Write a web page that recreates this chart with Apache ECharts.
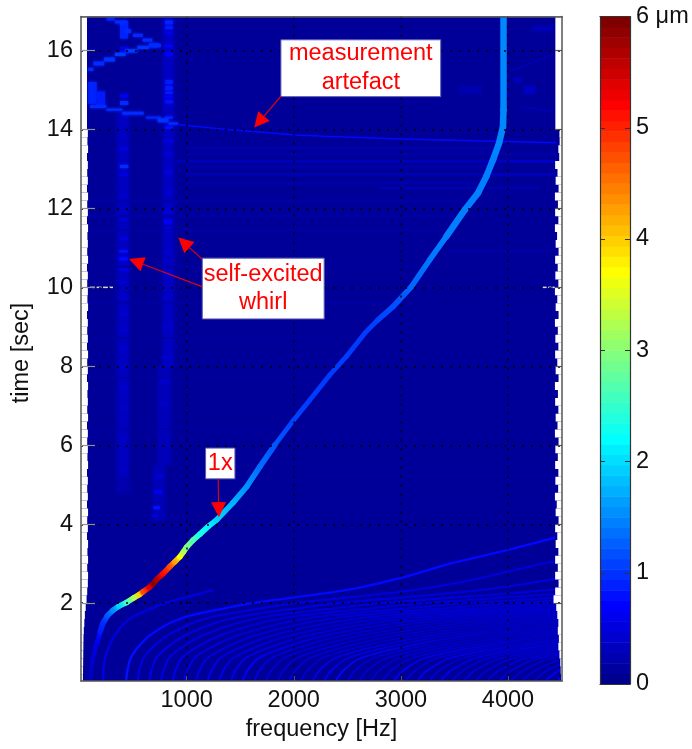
<!DOCTYPE html>
<html><head><meta charset="utf-8">
<style>html,body{margin:0;padding:0;background:#fff}#c{width:692px;height:749px}</style>
<script src="https://cdn.jsdelivr.net/npm/echarts@6/dist/echarts.min.js"></script>
</head><body><div id="c"></div>
<script>
const xTicks = [1000,2000,3000,4000];
const yTicks = [2,4,6,8,10,12,14,16];
const cbTicks = [0,1,2,3,4,5,6];
const xRange = [14,4504];
const yRange = [0.03,16.86];

// 1x ridge
const ridgeFreq = [95,105,125,150,173,195,220,260,313,370,440,510,560,593,650,690,720,780,844,890,938,970,1000,1060,1124,1200,1280,1432,1560,1684,1824,1988,2150,2336,2492,2663,2787,2927,3099,3270,3425,3596,3720,3798,3860,3916,3953,3958,3958];
const ridgeTime = [0.06,0.3,0.6,0.9,1.07,1.3,1.5,1.68,1.82,1.93,2.02,2.14,2.22,2.29,2.4,2.5,2.6,2.75,2.93,3.05,3.18,3.3,3.42,3.6,3.75,3.94,4.11,4.54,4.95,5.46,6.01,6.6,7.15,7.78,8.25,8.84,9.18,9.51,10.02,10.7,11.29,11.96,12.39,12.81,13.23,13.65,14.07,14.5,16.86];
const ridgeAmp = [0.35,0.4,0.5,0.6,0.75,0.9,1.0,1.25,1.55,2.0,2.6,3.3,4.0,4.8,5.4,5.9,5.7,5.2,4.8,4.3,3.7,3.3,3.0,2.7,2.4,2.2,2.0,1.8,1.6,1.4,1.25,1.15,1.1,1.1,1.1,1.1,1.15,1.2,1.35,1.45,1.5,1.5,1.5,1.5,1.5,1.55,1.55,1.55,1.55];

// engine-order fan at start of run (frequency at each time of fanTimes)
const fanTimes = [0.06,0.3,0.6,0.9,1.2,1.5,1.7,1.85,2.0,2.33,2.64,3.0,3.35,3.66];
const fanFreq = [
[220,224,238,276,332,422,526,660,800,1246],
[436,448,476,552,664,844,1052,1320,1600,2492,3000,3456,4000,4440],
[545,560,595,690,830,1055,1315,1650,2000,3115,3750,4320,5000],
[654,672,714,828,996,1266,1578,1980,2400,3738,4500],
[763,784,833,966,1162,1477,1841,2310,2800,4361,5250],
[872,896,952,1104,1328,1688,2104,2640,3200,4984],
[981,1008,1071,1242,1494,1899,2367,2970,3600,5607],
[1090,1120,1190,1380,1660,2110,2630,3300,4000,6230],
[1199,1232,1309,1518,1826,2321,2893,3630,4400,6853],
[1308,1344,1428,1656,1992,2532,3156,3960,4800],
[1417,1456,1547,1794,2158,2743,3419,4290,5200],
[1526,1568,1666,1932,2324,2954,3682,4620],
[1635,1680,1785,2070,2490,3165,3945,4950],
[1744,1792,1904,2208,2656,3376,4208,5280],
[1853,1904,2023,2346,2822,3587,4471,5610],
[1962,2016,2142,2484,2988,3798,4734],
[2071,2128,2261,2622,3154,4009,4997],
[2180,2240,2380,2760,3320,4220,5260],
[2289,2352,2499,2898,3486,4431,5523],
[2398,2464,2618,3036,3652,4642],
[2507,2576,2737,3174,3818,4853],
[2616,2688,2856,3312,3984,5064],
[2725,2800,2975,3450,4150,5275],
[2834,2912,3094,3588,4316,5486],
[2943,3024,3213,3726,4482,5697],
[3052,3136,3332,3864,4648],
[3161,3248,3451,4002,4814],
[3270,3360,3570,4140,4980],
[3379,3472,3689,4278,5146],
[3488,3584,3808,4416,5312],
[3597,3696,3927,4554,5478],
[3706,3808,4046,4692],
[3815,3920,4165,4830],
[3924,4032,4284,4968],
[4033,4144,4403,5106],
[4142,4256,4522,5244],
[4251,4368,4641,5382],
[4360,4480,4760,5520],
[4469,4592,4879]
];
const fanAmp = [0.6,0.85,0.6,0.65,0.6,0.65,0.6,0.6,0.65,0.6,0.65,0.75,0.6,0.5,0.55,0.55,0.5,0.7,0.7,0.8,0.5,0.5,0.5,0.5,0.75,0.5,0.75,0.5,0.65,0.5,0.55,0.5,0.55,0.5,0.45,0.45,0.5,0.7,0.7];
// amplitude of each order once it has swept high in frequency
const fanTailAmp = [0.55,0.8,0.55,0.55,0.52,0.5,0.5,0.48,0.48,0.46,0.46,0.44,0.44,0.42,0.42,0.42,0.4,0.4,0.4,0.4,0.38,0.38,0.38,0.38,0.38,0.36,0.36,0.36,0.36,0.36,0.36,0.36,0.36,0.36,0.36,0.36,0.36,0.36,0.36];

// artefact line and other thin curves
const artefactFreq = [920,1031,1373,1622,2026,2337,3000,4450];
const artefactTime = [14.12,14.09,14.0,13.95,13.86,13.82,13.76,13.66];
const mirrorFreq = [4016,4417];
const mirrorTime = [15.47,15.89];
const mirror2Freq = [4109,4417];
const mirror2Time = [14.58,14.45];

// [f0,f1,t0,t1,amp]
const whirlBlocks = [
[340,470,4.8,14.45,0.26],[770,890,8,16.85,0.26],[725,865,5.5,8,0.24],[680,810,4.1,5.5,0.24],
[365,450,5.2,14.45,0.38],[790,870,8,16.85,0.4],[745,845,5.5,8,0.34],[695,790,4.1,5.5,0.32],
[82,160,14.65,15.2,0.95],[160,238,14.62,14.96,0.9],[378,455,16.3,16.75,0.95],[378,455,15.9,16.1,0.6],
[378,455,14.62,14.72,1.0],[378,455,14.8,14.9,0.65],[378,455,13.02,13.1,1.0],[370,450,13.48,13.54,0.6],
[370,450,12.82,12.88,0.6],[370,450,12.28,12.34,0.5],[370,450,11.7,11.76,0.5],[370,450,11.2,11.26,0.55],
[370,450,10.88,10.94,0.85],[370,450,10.68,10.76,0.8],[370,450,10.42,10.48,0.6],[370,450,10.08,10.14,0.5],
[375,445,9.68,9.74,0.48],[375,445,9.28,9.36,0.48],[375,445,8.88,8.94,0.48],[375,445,8.4,8.5,0.46],
[375,445,7.98,8.04,0.46],[375,445,7.4,7.5,0.44],[375,445,6.9,7.0,0.42],[380,440,6.3,6.4,0.4],[380,440,5.5,5.6,0.4],
[800,870,16.66,16.76,0.95],[800,870,16.54,16.62,0.9],[800,870,16.42,16.48,0.65],[800,870,16.08,16.14,0.75],
[800,870,15.86,15.94,0.75],[800,870,15.15,15.25,0.9],[800,870,15.0,15.1,0.9],[800,870,14.9,14.96,0.9],
[800,870,14.8,14.86,0.75],[800,870,14.66,14.74,0.85],[800,870,14.27,14.33,0.95],[800,870,14.02,14.08,0.85],
[800,870,13.68,13.74,0.6],[800,870,13.36,13.42,0.55],[800,870,12.88,12.94,0.6],[800,870,12.38,12.44,0.5],
[790,860,11.88,11.94,0.6],[790,860,11.62,11.7,0.75],[790,860,11.42,11.5,0.6],[790,860,10.88,10.94,0.48],
[790,860,10.28,10.36,0.46],[780,850,9.68,9.76,0.46],[780,850,8.98,9.06,0.46],[770,850,8.18,8.26,0.5],
[760,840,7.58,7.66,0.46],[750,830,7.0,7.08,0.44],[740,820,6.38,6.46,0.42],[710,790,5.18,5.26,0.5],
[700,770,4.78,4.86,0.7],[690,750,4.38,4.46,0.85],[680,730,4.18,4.24,0.6],
[4060,4125,15.2,15.3,0.4],[4150,4250,14.9,15.1,0.4],[4230,4417,16.5,16.6,0.35],[3550,3750,14.9,15.1,0.28],
[82,130,15.48,15.56,1.0],[130,230,15.62,15.72,1.0],[230,330,15.72,15.82,1.05],[330,430,15.86,15.94,1.1],[430,540,15.95,16.03,1.1],[540,650,16.04,16.12,1.05],[650,760,16.08,16.17,1.0],
[253,330,16.76,16.84,0.95],[330,440,16.68,16.76,1.0],[420,480,16.44,16.54,1.0],[500,590,16.34,16.42,1.0],[590,680,16.22,16.3,1.0],[650,740,16.08,16.18,1.0],
[98,250,14.54,14.62,1.0],[250,400,14.47,14.53,1.0],[400,600,14.37,14.45,1.0],[620,760,14.27,14.33,0.95],[730,830,14.18,14.28,1.05],[830,920,14.12,14.18,1.0]
];
// [f0,f1,t0,t1,amp]
const stripeLines = [
[1000,3950,13.51,13.55,0.3],[1000,4450,13.36,13.39,0.3],[900,3950,13.17,13.21,0.38],[3950,4450,13.17,13.21,0.5],
[1000,3830,13.04,13.08,0.3],[1000,3800,12.84,12.88,0.36],[3800,4450,12.84,12.88,0.42],[1000,3700,12.62,12.66,0.28],
[2800,3700,12.5,12.54,0.35],[3800,4300,12.5,12.54,0.3],[90,3640,12.17,12.21,0.24],[90,3500,11.79,11.83,0.24],
[90,3400,11.44,11.47,0.22],[3450,4400,10.9,10.93,0.28],[90,3300,10.5,10.53,0.2],[90,3000,9.6,9.63,0.2],
[90,2500,8.7,8.73,0.19],[90,2300,7.7,7.73,0.19],[90,1900,6.4,6.43,0.19],[2100,4450,5.2,5.23,0.19],[2000,4450,4.5,4.53,0.19]
];

// edge of the no-data margins, one value per row of edgeStep seconds
const edgeStep = 0.2;
const leftEdge = [32,33,34,35,36,37,40,45,50,58,66,72,78,80,72,80,74,80,70,78,72,80,70,78,72,78,70,80,74,78,72,78,70,80,72,78,74,80,70,78,72,80,70,78,72,78,70,80,74,78,72,78,70,80,72,78,74,80,70,78,72,80,70,78,72,78,70,80,74,78];
const rightEdge = [4495,4492,4488,4480,4470,4475,4465,4470,4460,4450,4425,4440,4472,4440,4465,4440,4470,4445,4460,4440,4472,4445,4455,4438,4468,4442,4470,4440,4465,4442,4472,4438,4462,4445,4470,4440,4466,4438,4472,4445,4460,4440,4470,4442,4465,4438,4472,4445,4460,4438,4470,4442,4464,4440,4472,4445,4458,4438,4470,4440,4466,4438,4472,4445,4462,4440,4478,4470,4482,4480];
const topMargin = [[14,70],[14,4442]];

// small dashes
const tenDashes = [[98,145],[160,205],[220,265],[275,313],[4325,4360],[4375,4405],[4415,4436]];

// labels
const noteBoxes = [
 {text:'measurement\nartefact', f0:1880,f1:3372,t0:14.83,t1:16.27},
 {text:'self-excited\nwhirl', f0:1146,f1:2284,t0:9.2,t1:10.74},
 {text:'1x', f0:1177,f1:1451,t0:5.15,t1:5.93}
];
// [from f, from t, tip f, tip t]
const noteArrows = [[1880,14.84,1631,14.05],[1143,10.02,462,10.72],[1143,10.72,922,11.26],[1295,5.15,1301,4.18]];
const colorLevels = 64;

function jetFrac(x){
  const c = a => Math.round(255*Math.max(0,Math.min(1,1.5-Math.abs(4*x-a))));
  return 'rgb('+c(3)+','+c(2)+','+c(1)+')';
}
const jet = v => jetFrac(v/6);
const FONT = 'Liberation Sans';
const BLUE_BG = '#000099';

const ridgeSegs = ridgeFreq.slice(0,-1).map((f,i)=>[f,ridgeTime[i],ridgeFreq[i+1],ridgeTime[i+1],ridgeAmp[i],ridgeAmp[i+1]]);
function ridgeWidth(t){ if(t>11) return 6.5; if(t>9) return 5.5; if(t>5.5) return 4.8; if(t>1.2) return 5.6; return 4.5; }
function polySeries(name,fs,ts,amp,w,z){
  return {type:'custom',name,coordinateSystem:'cartesian2d',clip:true,z:z||2,silent:true,
    data:[[fs[0],ts[0]]],
    renderItem:(p,api)=>({type:'polyline',
      shape:{points:fs.map((f,i)=>api.coord([f,ts[i]]))},
      style:{stroke:jet(amp),lineWidth:w,fill:null,lineJoin:'round'}})};
}
function rectSeries(name,rows,z,color,blur){
  return {type:'custom',name,coordinateSystem:'cartesian2d',clip:true,z:z,silent:true,
    data:rows,
    renderItem:(p,api)=>{
      const a=api.coord([api.value(0),api.value(3)]), b=api.coord([api.value(1),api.value(2)]);
      const fill=color||jet(api.value(4));
      return {type:'rect',shape:{x:a[0],y:a[1],width:b[0]-a[0],height:Math.max(b[1]-a[1],1)},
        style:blur?{fill,shadowBlur:blur,shadowColor:fill}:{fill}};
    }};
}
const maskRows=[];
leftEdge.forEach((f,i)=>maskRows.push([xRange[0],f,i*edgeStep,(i+1)*edgeStep,0]));
rightEdge.forEach((f,i)=>maskRows.push([f,xRange[1],i*edgeStep,(i+1)*edgeStep,0]));
topMargin.forEach(r=>{ maskRows.push(r[1]<1000?[xRange[0],r[1],r[0],yRange[1],0]:[r[1],xRange[1],r[0],yRange[1],0]); });

const frameAxis = {axisLine:{show:true,lineStyle:{color:'#555',width:1.5}},axisLabel:{show:false},axisTick:{show:false},splitLine:{show:false},z:6};
const cbLevels = Array.from({length:colorLevels},(_,i)=>[i]);

const series = [
  rectSeries('whirl',whirlBlocks,2,null,3),
  rectSeries('stripes',stripeLines,2,null,1),
  {type:'custom',name:'fan',coordinateSystem:'cartesian2d',clip:true,z:2,silent:true,
   data:fanFreq.map((r,i)=>[r[0],fanTimes[0],i]),
   renderItem:(p,api)=>{const i=p.dataIndex,r=fanFreq[i];
     const y0=api.coord([xRange[0],0.3])[1], y1=api.coord([xRange[0],1.3])[1];
     return {type:'polyline',shape:{points:r.map((f,k)=>api.coord([f,fanTimes[k]])),smooth:0.25},
       style:{lineWidth:i<2?2.4:(i<12?2.1:1.8),fill:null,
         stroke:new echarts.graphic.LinearGradient(0,y0,0,y1,[{offset:0,color:jet(fanAmp[i])},{offset:1,color:jet(fanTailAmp[i])}],true)}};}},
  polySeries('artefact',artefactFreq,artefactTime,0.8,1.5,2),
  polySeries('mirror',mirrorFreq,mirrorTime,0.35,1.5,2),
  polySeries('mirror2',mirror2Freq,mirror2Time,0.35,1.5,2),
  {type:'custom',name:'1x',coordinateSystem:'cartesian2d',clip:true,z:3,silent:true,
   data:ridgeSegs,
   renderItem:(p,api)=>{
     const s=ridgeSegs[p.dataIndex], a=api.coord([s[0],s[1]]), b=api.coord([s[2],s[3]]);
     return {type:'line',shape:{x1:a[0],y1:a[1],x2:b[0],y2:b[1]},
       style:{lineWidth:ridgeWidth(s[1]),lineCap:'round',
         stroke:new echarts.graphic.LinearGradient(a[0],a[1],b[0],b[1]+0.01,[{offset:0,color:jet(s[4])},{offset:1,color:jet(s[5])}],true)}};
   }},
  rectSeries('margin',maskRows,4,'#ffffff'),
  {type:'custom',name:'dashes',coordinateSystem:'cartesian2d',z:5,silent:true,
   data:tenDashes,
   renderItem:(p,api)=>{const a=api.coord([api.value(0),10]),b=api.coord([api.value(1),10]);
     return {type:'line',shape:{x1:a[0],y1:a[1],x2:b[0],y2:b[1]},style:{stroke:'#d8d8e8',lineWidth:1.5}};}},
  {type:'custom',name:'boxes',coordinateSystem:'cartesian2d',z:8,silent:true,
   data:noteBoxes.map(n=>[n.f0,n.t0]),
   renderItem:(p,api)=>{const n=noteBoxes[p.dataIndex];
     const a=api.coord([n.f0,n.t1]),b=api.coord([n.f1,n.t0]);
     return {type:'group',children:[
       {type:'rect',shape:{x:a[0],y:a[1],width:b[0]-a[0],height:b[1]-a[1]},style:{fill:'#fff',stroke:'#5a5ab4',lineWidth:1}},
       {type:'text',z2:2,style:{text:n.text,x:(a[0]+b[0])/2,y:(a[1]+b[1])/2,align:'center',verticalAlign:'middle',
         fill:'#ff0000',font:'23.5px "'+FONT+'"',lineHeight:28.5}}
     ]};}},
  {type:'custom',name:'arrows',coordinateSystem:'cartesian2d',z:8,silent:true,
   data:noteArrows,
   renderItem:(p,api)=>{
     const a=api.coord([api.value(0),api.value(1)]),b=api.coord([api.value(2),api.value(3)]);
     const dx=b[0]-a[0],dy=b[1]-a[1],L=Math.hypot(dx,dy),ux=dx/L,uy=dy/L;
     const bx=b[0]-ux*15,by=b[1]-uy*15;
     return {type:'group',children:[
       {type:'line',shape:{x1:a[0],y1:a[1],x2:bx,y2:by},style:{stroke:'#e00010',lineWidth:1.2}},
       {type:'polygon',shape:{points:[b,[bx-uy*7.5,by+ux*7.5],[bx+uy*7.5,by-ux*7.5]]},style:{fill:'#ff0000'}}
     ]};}},
  {type:'custom',name:'colorbar',coordinateSystem:'cartesian2d',xAxisIndex:2,yAxisIndex:2,z:2,silent:true,
   data:cbLevels,
   renderItem:(p,api)=>{const i=p.dataIndex;
     const a=api.coord([0,6*(i+1)/colorLevels]),b=api.coord([1,6*i/colorLevels]);
     return {type:'rect',shape:{x:a[0],y:a[1],width:b[0]-a[0],height:b[1]-a[1]+0.5},style:{fill:jetFrac((i+1)/colorLevels)}};}}
];

const tickLabel = {fontFamily:FONT,fontSize:23.5,color:'#111'};
const option = {
  animation:false,
  backgroundColor:'#fff',
  textStyle:{fontFamily:FONT},
  grid:[
    {left:81,top:16.5,width:481,height:664.5,show:true,backgroundColor:BLUE_BG,borderWidth:0,containLabel:false},
    {left:600,top:16.5,width:30,height:667.5,show:false,containLabel:false}
  ],
  xAxis:[
    {type:'value',gridIndex:0,position:'bottom',min:xRange[0],max:xRange[1],z:6,
     name:'frequency [Hz]',nameLocation:'middle',nameGap:36,nameTextStyle:{fontFamily:FONT,fontSize:23.5,color:'#111'},
     axisLine:{show:true,onZero:false,lineStyle:{color:'#555',width:1.5}},
     axisTick:{show:true,inside:true,length:5,customValues:xTicks,lineStyle:{color:'#555'}},
     axisLabel:Object.assign({customValues:xTicks,margin:8,formatter:v=>String(v)},tickLabel),
     splitLine:{show:true,lineStyle:{color:'#000',type:[2,7],width:1.5}}},
    Object.assign({type:'value',gridIndex:0,position:'top',min:xRange[0],max:xRange[1]},frameAxis),
    {type:'value',gridIndex:1,min:0,max:1,position:'bottom',show:true,z:6,
     axisLine:{show:true,onZero:false,lineStyle:{color:'#333',width:1.2}},axisTick:{show:false},axisLabel:{show:false},splitLine:{show:false}},
    {type:'value',gridIndex:1,min:0,max:1,position:'top',show:true,z:6,
     axisLine:{show:true,onZero:false,lineStyle:{color:'#333',width:1.2}},axisTick:{show:false},axisLabel:{show:false},splitLine:{show:false}}
  ],
  yAxis:[
    {type:'value',gridIndex:0,position:'left',min:yRange[0],max:yRange[1],z:6,
     axisLine:{show:true,onZero:false,lineStyle:{color:'#555',width:1.5}},
     axisTick:{show:true,inside:true,length:14,customValues:yTicks,lineStyle:{color:'#8f8f9c',width:1.2}},
     axisLabel:Object.assign({customValues:yTicks,margin:8},tickLabel),
     splitLine:{show:true,lineStyle:{color:'#000',type:[2,7],width:1.5}}},
    {type:'value',gridIndex:0,position:'right',min:yRange[0],max:yRange[1],z:6,
     axisLine:{show:true,onZero:false,lineStyle:{color:'#555',width:1.5}},
     axisTick:{show:true,inside:true,length:7,customValues:yTicks,lineStyle:{color:'#555',width:1.2}},
     axisLabel:{show:false},splitLine:{show:false}},
    {type:'value',gridIndex:1,position:'left',min:0,max:6,z:6,
     axisLine:{show:true,onZero:false,lineStyle:{color:'#333',width:1.2}},
     axisTick:{show:true,inside:true,length:5,customValues:cbTicks,lineStyle:{color:'#333'}},
     axisLabel:{show:false},splitLine:{show:false}},
    {type:'value',gridIndex:1,position:'right',min:0,max:6,z:6,
     axisLine:{show:true,onZero:false,lineStyle:{color:'#333',width:1.2}},
     axisTick:{show:true,inside:true,length:5,customValues:cbTicks,lineStyle:{color:'#333'}},
     axisLabel:Object.assign({customValues:cbTicks,margin:6,formatter:v=>v===6?'6 μm':String(v)},tickLabel),
     splitLine:{show:false}}
  ],
  graphic:[{type:'text',x:22,y:353,rotation:Math.PI/2,z:10,
    style:{text:'time [sec]',align:'center',verticalAlign:'middle',fill:'#111',font:'23.5px "'+FONT+'"'}}],
  series
};
const chart = echarts.init(document.getElementById('c'),null,{renderer:'canvas'});
chart.setOption(option);
</script></body></html>
